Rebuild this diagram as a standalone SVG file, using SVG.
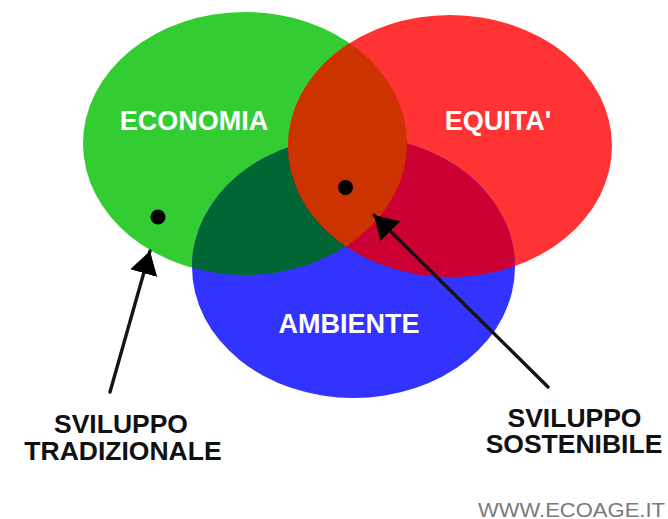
<svg xmlns="http://www.w3.org/2000/svg" width="668" height="519" viewBox="0 0 668 519">
<style>
.lbl{font-family:"Liberation Sans",Arial,sans-serif;font-weight:bold;font-size:27px;fill:#fff;text-anchor:middle}
.cap{font-family:"Liberation Sans",Arial,sans-serif;font-weight:bold;font-size:26.5px;fill:#111;text-anchor:middle}
.web{font-family:"Liberation Sans",Arial,sans-serif;font-size:21px;fill:#7a7a7a;text-anchor:middle}
.conn{stroke:#151515;stroke-width:3.4;fill:none;stroke-linecap:round}
</style>
<defs>
<clipPath id="cG"><ellipse cx="245" cy="143.5" rx="162" ry="131.5"/></clipPath>
<clipPath id="cR"><ellipse cx="450" cy="146" rx="162" ry="131"/></clipPath>
<marker id="ah" viewBox="0 0 23 28" refX="23" refY="14" markerWidth="23" markerHeight="28" markerUnits="userSpaceOnUse" orient="auto">
<path d="M0,0 L23,14 L0,28 Z" fill="#000"/>
</marker>
</defs>
<rect width="668" height="519" fill="#fff"/>
<g id="economia">
<ellipse cx="245" cy="143.5" rx="162" ry="131.5" fill="#33cc33"/>
</g>
<g id="equita">
<ellipse cx="450" cy="146" rx="162" ry="131" fill="#ff3333"/>
</g>
<g id="ambiente">
<ellipse cx="353.5" cy="267" rx="161.5" ry="131" fill="#3333ff"/>
</g>
<g id="overlaps">
<ellipse cx="353.5" cy="267" rx="161.5" ry="131" fill="#006633" clip-path="url(#cG)"/>
<ellipse cx="353.5" cy="267" rx="161.5" ry="131" fill="#cc0033" clip-path="url(#cR)"/>
<ellipse cx="450" cy="146" rx="162" ry="131" fill="#cc3300" clip-path="url(#cG)"/>
</g>
<g id="labels">
<text class="lbl" x="194" y="129.5">ECONOMIA</text>
<text class="lbl" x="498" y="129.5">EQUITA'</text>
<text class="lbl" x="349" y="333">AMBIENTE</text>
</g>
<g id="dot-tradizionale"><circle cx="158" cy="217" r="7.5" fill="#000"/></g>
<g id="dot-sostenibile"><circle cx="345.5" cy="187.5" r="7.5" fill="#000"/></g>
<g id="connectors">
<path class="conn" d="M110,392 L150,251" marker-end="url(#ah)"/>
<path class="conn" d="M548,387 L374,215" marker-end="url(#ah)"/>
</g>
<g id="sviluppo-tradizionale">
<text class="cap" x="121" y="433">SVILUPPO</text>
<text class="cap" x="123" y="460">TRADIZIONALE</text>
</g>
<g id="sviluppo-sostenibile">
<text class="cap" x="574.5" y="427">SVILUPPO</text>
<text class="cap" x="574" y="453">SOSTENIBILE</text>
</g>
<text class="web" x="571.5" y="516.5" textLength="187" lengthAdjust="spacingAndGlyphs">WWW.ECOAGE.IT</text>
</svg>
